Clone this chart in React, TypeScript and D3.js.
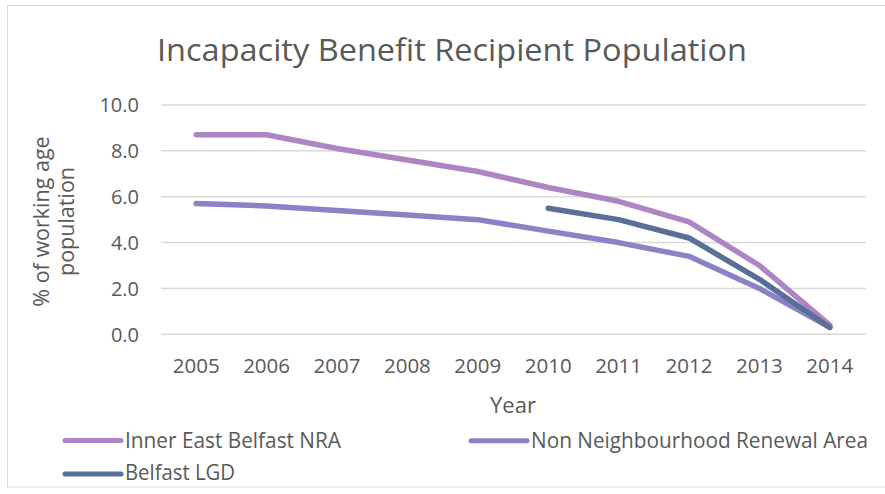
import React from "react";
import * as d3 from "d3";

const years = ["2005","2006","2007","2008","2009","2010","2011","2012","2013","2014"];
const innerEast = [8.7, 8.7, 8.1, 7.6, 7.1, 6.4, 5.8, 4.9, 3.0, 0.4];
const nonNRA = [5.7, 5.6, 5.4, 5.2, 5.0, 4.5, 4.0, 3.4, 2.0, 0.3];
const belfastLGD = [null, null, null, null, null, 5.5, 5.0, 4.2, 2.4, 0.3];
const yTicks = [0, 2, 4, 6, 8, 10];

const seriesNames = ["Inner East Belfast NRA", "Non Neighbourhood Renewal Area", "Belfast LGD"];
const seriesColors = ["#ae84c4", "#8783c6", "#596f97"];

export default function App() {
  const W = 885, H = 494;
  const x = d3.scalePoint<string>().domain(years).range([161, 865]).padding(0.5);
  const y = d3.scaleLinear().domain([0, 10]).range([334.3, 105]);
  const font = "'Open Sans', sans-serif";
  const txt = "#595959";
  const line = d3
    .line<number | null>()
    .defined((d) => d !== null)
    .x((_, i) => x(years[i]) as number)
    .y((d) => y(d as number));
  const allSeries = [innerEast, nonNRA, belfastLGD];

  const legend = [
    { lx: 65, lx2: 121, ly: 440.5, tx: 125, tw: 216, by: 448.3 },
    { lx: 471, lx2: 527, ly: 440.7, tx: 531, tw: 337, by: 448.3 },
    { lx: 65, lx2: 121, ly: 474, tx: 125, tw: 110, by: 480 },
  ];

  return (
    <svg width={W} height={H} style={{ position: "absolute", left: 0, top: 0, background: "#fff" }} fontFamily={font}>
      <rect x={7.5} y={5.5} width={900} height={481.5} fill="#fff" stroke="#d9d9d9" strokeWidth={1} />
      <text x={452} y={61} textAnchor="middle" fontSize={31} fill={txt} textLength={590} lengthAdjust="spacingAndGlyphs">
        Incapacity Benefit Recipient Population
      </text>
      {yTicks.map((t) => (
        <g key={t}>
          <line x1={161} x2={866} y1={y(t)} y2={y(t)} stroke="#d9d9d9" strokeWidth={1.5} />
          <text x={139} y={y(t)} dy="0.36em" textAnchor="end" fontSize={20} fill={txt}>
            {t.toFixed(1)}
          </text>
        </g>
      ))}
      {years.map((yr) => (
        <text key={yr} x={x(yr)} y={373.3} textAnchor="middle" fontSize={20.5} fill={txt}>
          {yr}
        </text>
      ))}
      <text x={513} y={412.7} textAnchor="middle" fontSize={22} fill={txt}>Year</text>
      <g transform="translate(42,221.5) rotate(-90)">
        <text x={0} y={7} textAnchor="middle" fontSize={21.5} fill={txt}>% of working age</text>
        <text x={0} y={32} textAnchor="middle" fontSize={21.5} fill={txt}>population</text>
      </g>
      {allSeries.map((s, i) => (
        <path
          key={i}
          d={line(s) || ""}
          fill="none"
          stroke={seriesColors[i]}
          strokeWidth={5.5}
          strokeLinecap="round"
          strokeLinejoin="round"
        />
      ))}
      {legend.map((l, i) => (
        <g key={i}>
          <line x1={l.lx} x2={l.lx2} y1={l.ly} y2={l.ly} stroke={seriesColors[i]} strokeWidth={5} strokeLinecap="round" />
          <text x={l.tx} y={l.by} fontSize={21} fill={txt} textLength={l.tw} lengthAdjust="spacingAndGlyphs">
            {seriesNames[i]}
          </text>
        </g>
      ))}
    </svg>
  );
}
